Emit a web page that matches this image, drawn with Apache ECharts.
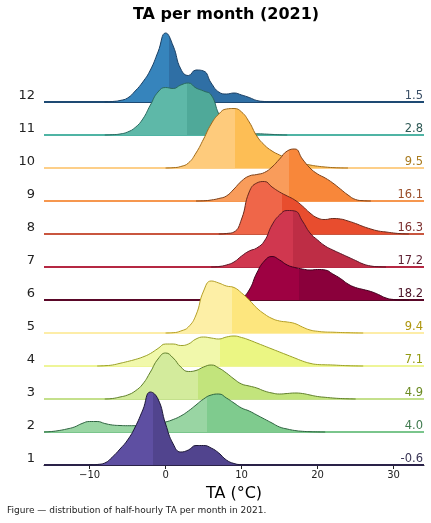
<!DOCTYPE html>
<html>
<head>
<meta charset="utf-8">
<script src="https://cdn.jsdelivr.net/npm/echarts@6/dist/echarts.min.js"></script>
<style>
html, body { margin: 0; padding: 0; background: #fff; }
#main { width: 431px; height: 523px; }
</style>
</head>
<body>
<div id="main"></div>
<script>
// temperature grid (°C) shared by all months
var temps = [-16, -15, -14, -13, -12, -11, -10, -9, -8, -7, -6, -5, -4, -3, -2, -1, 0,
  1, 2, 3, 4, 5, 6, 7, 8, 9, 10, 11, 12, 13, 14, 15, 16, 17, 18, 19, 20,
  21, 22, 23, 24, 25, 26, 27, 28, 29, 30, 31, 32, 33, 34];
var months = ['1', '2', '3', '4', '5', '6', '7', '8', '9', '10', '11', '12'];

// first temperature of each month's density curve
var starts = [-10, -16, -8, -9, 0, 8, 6, 7, 4, 0, -8, -8];

// relative density, one value per °C from starts[k]
var d01 = [0, 0.5, 2, 8, 16, 25, 38, 55, 73, 66, 41, 21, 13, 15, 19.5, 19.5, 17, 12, 5, 1.5, 0.3, 0];
var d02 = [0, 0.5, 1.5, 3, 5, 8.5, 10.5, 10.5, 8.5, 7, 6.5, 6.3, 6.3, 6.5, 7.5, 8.5, 10, 12.5, 16, 21,
  27, 33, 37, 38, 34, 29, 24, 21, 17, 13, 9, 5, 3, 1.5, 0.7, 0.3, 0.1, 0];
var d03 = [0, 0.5, 2, 4, 8, 15, 27, 40, 46, 41, 32, 27.5, 28.5, 32, 34, 31, 26, 20, 15, 13, 11, 8, 6,
  5, 5.5, 6, 5.5, 4, 2.5, 1.7, 1, 0.5, 0.2, 0];
var d04 = [0, 0.3, 1, 2.7, 4.5, 6.5, 9, 12.5, 17.5, 22, 22, 20.5, 22, 27, 29, 28, 27, 29, 30, 28.5,
  26, 23, 20, 17, 14, 11, 8, 5, 2.7, 1.5, 1.2, 1, 0.6, 0.3, 0.1, 0];
var d05 = [0, 0.3, 2, 6, 18, 42, 52, 50, 47, 45.5, 40, 33, 25, 19, 14.5, 12, 11, 9.5, 6, 3, 1.7, 1,
  0.8, 0.5, 0.3, 0.1, 0];
var d06 = [0, 0.3, 2, 10, 27, 39, 43.5, 40, 35, 32.5, 31, 30, 30.5, 30, 26, 21.5, 16, 12.5, 10.5,
  8.5, 5.5, 2, 0.5, 0.1, 0];
var d07 = [0, 0.5, 2, 5, 11, 16, 19, 26, 42, 52, 56.5, 56, 46, 34, 27, 21, 17, 13.5, 10, 6.5, 3, 1,
  0.3, 0];
var d08 = [0, 0.5, 2, 15, 42, 51, 52.5, 47, 42, 38, 34, 28, 21, 16, 14.5, 15.5, 15, 13, 10.5, 7.5,
  5, 3, 2, 1, 0.3, 0];
var d09 = [0, 0.2, 1, 2.5, 5, 12, 20, 25, 26.5, 28.5, 34, 42, 50, 52, 42, 33, 27, 23, 18, 12, 6,
  1.5, 0.3, 0];
var d10 = [0, 0.3, 1.5, 5, 15, 29, 44, 54, 59, 59.5, 56, 46, 32, 23, 17, 13, 9.5, 6.5, 4.5, 3, 1.8,
  1, 0.4, 0.1, 0];
var d11 = [0, 0.3, 1, 3, 7.5, 16, 30, 43, 47.5, 46.5, 50, 52, 47, 44, 40, 21, 8, 3, 1.5, 1.2, 1.2,
  1, 0.6, 0.2, 0];
var d12 = [0, 0.5, 1.5, 4, 11, 20, 32, 50, 69, 56, 33, 26.5, 32, 31, 19, 10, 8, 9, 7, 4.5, 1.5,
  0.5, 0.1, 0];
var densities = [d01, d02, d03, d04, d05, d06, d07, d08, d09, d10, d11, d12];

var medians = [-1.6, 5.5, 4.2, 7.1, 8.7, 17.6, 16.8, 15.3, 16.3, 9.1, 2.8, 0.5];
var means = [-0.6, 4.0, 4.9, 7.1, 9.4, 18.2, 17.2, 16.3, 16.1, 9.5, 2.8, 1.5];

// colours per month
var fillLow = ['#5e4fa2', '#99d5a3', '#d3eb9c', '#f1f8ab', '#fdefa6', '#9e0142',
  '#d0374f', '#ef6649', '#f99c5b', '#fecb7c', '#5eb8a8', '#3684bc'];
var fillHigh = ['#51448e', '#7fcb8e', '#c2e47c', '#ebf683', '#fde67e', '#8a003b',
  '#be2d45', '#e84d2e', '#f8873a', '#fdbe55', '#4fa999', '#2f6fa5'];
var edgeCol = ['#1d1838', '#2e6440', '#5f7f2a', '#9aa028', '#b59f25', '#40001c',
  '#5a1525', '#6a2a1c', '#7c4018', '#a06a18', '#2a6a60', '#1a3f63'];
var baseCol = ['#2a2248', '#7ac58c', '#c4e08c', '#eef598', '#fdeda8', '#5a0828',
  '#b52843', '#c9563f', '#f6974f', '#fdcf89', '#4fb4a4', '#1e4a73'];
var labelCol = ['#3a3656', '#3f7a4e', '#6b8a22', '#939a12', '#ae960e', '#4a1226',
  '#5c1e30', '#7c2f2e', '#9a4e2a', '#a87a1e', '#2f5a56', '#3a4f66'];

var step = 33;      // density units between two ridges
var yTop = 436;
var font = 'DejaVu Sans';

var myChart = echarts.init(document.getElementById('main'));

var series = [];
for (var k = 11; k >= 0; k--) {
  var dens = densities[k];
  var baseVals = [], ridgeVals = [];
  for (var i = 0; i < temps.length; i++) {
    baseVals.push(k * step);
    var j = temps[i] - starts[k];
    ridgeVals.push(j >= 0 && j < dens.length ? dens[j] : null);
  }
  var f = (medians[k] - starts[k]) / (dens.length - 1);
  var zz = 2 + (11 - k) * 2;
  series.push({
    type: 'line', stack: 'm' + k, data: baseVals, symbol: 'none', silent: true, z: zz,
    lineStyle: { color: baseCol[k], width: 2 }
  });
  series.push({
    type: 'line', stack: 'm' + k, data: ridgeVals, symbol: 'none', silent: true, z: zz + 1,
    smooth: 0.5,
    lineStyle: { color: edgeCol[k], width: 1 },
    areaStyle: {
      opacity: 1,
      color: new echarts.graphic.LinearGradient(0, 0, 1, 0, [
        { offset: 0, color: fillLow[k] }, { offset: f, color: fillLow[k] },
        { offset: f, color: fillHigh[k] }, { offset: 1, color: fillHigh[k] }
      ])
    }
  });
}

function tenth(index, value) { return Number(value) % 10 === 0; }

var option = {
  animation: false,
  title: [
    { text: 'TA per month (2021)', left: 221, top: 2, textAlign: 'center',
      textStyle: { fontSize: 16, fontWeight: 'bold', color: '#000', fontFamily: font } },
    { text: 'Figure — distribution of half-hourly TA per month in 2021.', left: 7, top: 506,
      padding: 0,
      textStyle: { fontSize: 9, fontWeight: 'normal', color: '#222', fontFamily: font } }
  ],
  grid: { left: 44, right: 7, top: 29, bottom: 58 },
  xAxis: {
    type: 'category', data: temps.map(String), boundaryGap: false,
    name: 'TA (°C)', nameLocation: 'middle', nameGap: 21,
    nameTextStyle: { fontSize: 16, color: '#000', fontFamily: font },
    axisLine: { lineStyle: { color: '#222', width: 1 } },
    axisTick: { interval: tenth, length: 4, lineStyle: { color: '#222' } },
    axisLabel: { interval: tenth, fontSize: 10, color: '#222', margin: 5, fontFamily: font,
      formatter: function (v) { v = Number(v); return v < 0 ? '\u2212' + (-v) : String(v); } },
    splitLine: { show: false }
  },
  yAxis: [
    { type: 'value', min: 0, max: yTop, interval: step,
      axisLine: { show: false }, axisTick: { show: false }, splitLine: { show: false },
      axisLabel: { fontSize: 13, color: '#222', margin: 9, verticalAlign: 'bottom', fontFamily: font,
        formatter: function (v) { var n = Math.round(v / step); return n < months.length ? months[n] : ''; } } },
    { type: 'value', position: 'right', min: 0, max: yTop, interval: step,
      axisLine: { show: false }, axisTick: { show: false }, splitLine: { show: false },
      axisLabel: { inside: true, fontSize: 11.5, margin: 1, verticalAlign: 'bottom', fontFamily: font,
        color: function (v) { var n = Math.round(v / step); return labelCol[Math.min(n, 11)]; },
        formatter: function (v) { var n = Math.round(v / step); return n < means.length ? means[n].toFixed(1) : ''; } } }
  ],
  series: series
};
myChart.setOption(option);
</script>
</body>
</html>
